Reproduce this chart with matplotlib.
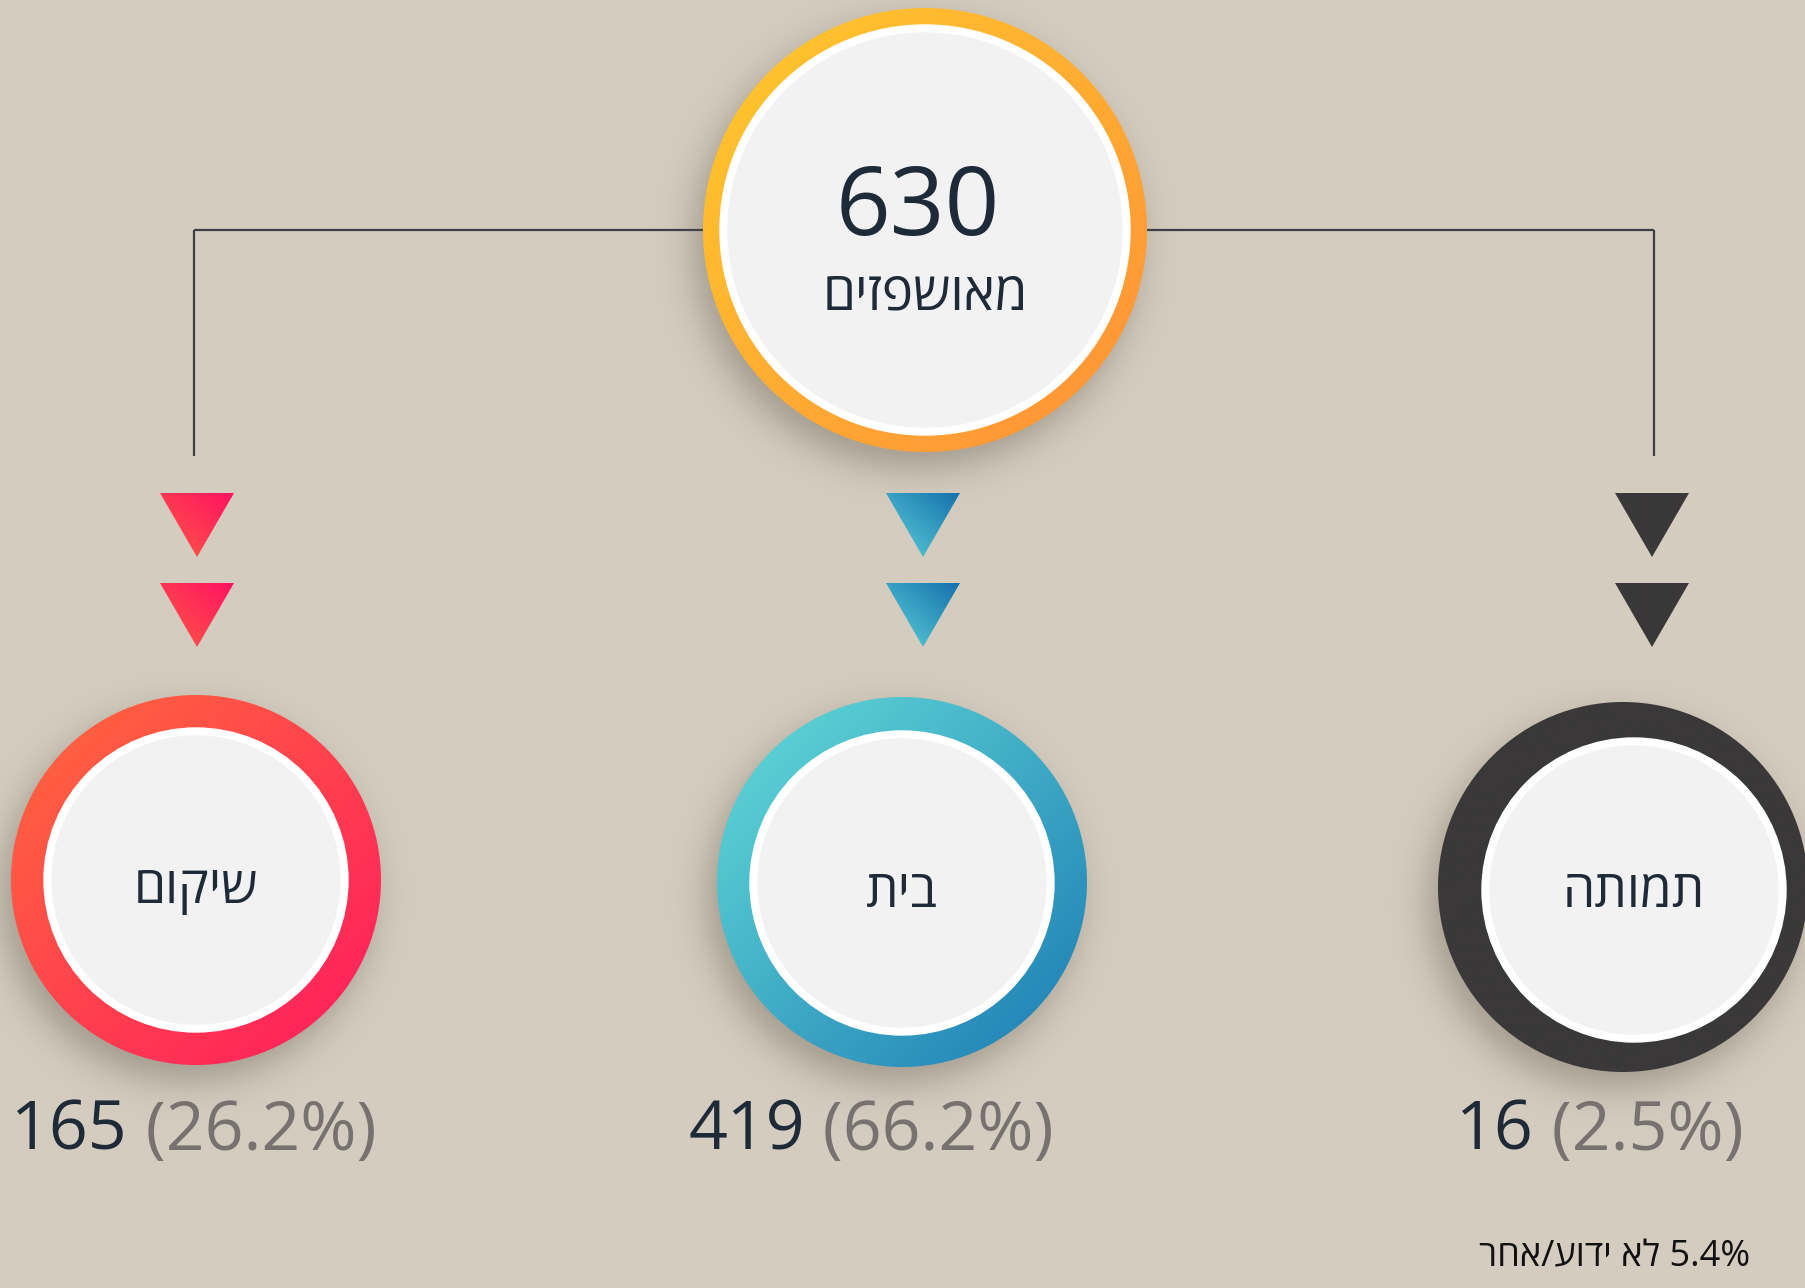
import numpy as np
import matplotlib.pyplot as plt
from matplotlib.patches import Circle, Polygon
from matplotlib.colors import to_rgb

# data
total = 630
total_label = "מאושפזים"
categories = ["שיקום", "בית", "תמותה"]
counts = [165, 419, 16]
shares = [26.2, 66.2, 2.5]
other_share = 5.4
other_label = "לא ידוע/אחר"

W, H = 1805, 1288
BG = '#D4CCBF'
DARK = '#1F2A38'
GREY_TXT = '#777270'
FONT = ['Open Sans', 'DejaVu Sans']

fig = plt.figure(figsize=(W / 100, H / 100), dpi=100)
fig.patch.set_facecolor(BG)
ax = fig.add_axes([0, 0, 1, 1])
ax.set_facecolor(BG)


def heb(s):
    # matplotlib has no bidi, so reverse Hebrew for display
    return s[::-1]


def gradient(c1, c2, d, n=256):
    a, b = np.array(to_rgb(c1)), np.array(to_rgb(c2))
    yy, xx = np.mgrid[0:1:n * 1j, 0:1:n * 1j]
    t = xx * d[0] + yy * d[1]
    t = (t - t.min()) / (t.max() - t.min())
    return a + (b - a) * t[..., None]


def grad_fill(patch, box, c1, c2, d, z):
    patch.set_facecolor('none')
    patch.set_edgecolor('none')
    patch.set_zorder(z)
    ax.add_patch(patch)
    x0, x1, y0, y1 = box
    im = ax.imshow(gradient(c1, c2, d), extent=(x0, x1, y1, y0), origin='upper',
                   zorder=z, interpolation='bilinear')
    im.set_clip_path(patch)


def shadow(cx, cy, r, dx=-9, dy=16, s=11, amax=0.42):
    pad = 5 * s + 20
    x0, x1 = cx + dx - r - pad, cx + dx + r + pad
    y0, y1 = cy + dy - r - pad, cy + dy + r + pad
    n = int(x1 - x0)
    X, Y = np.meshgrid(np.linspace(x0, x1, n), np.linspace(y0, y1, n))
    d = np.hypot(X - (cx + dx), Y - (cy + dy))
    rgba = np.zeros((n, n, 4))
    rgba[..., :3] = to_rgb('#5c5548')
    rgba[..., 3] = amax / (1 + np.exp((d - r) / s))
    ax.imshow(rgba, extent=(x0, x1, y1, y0), origin='upper', zorder=2)


def ring(cx, cy, R, rw, rg, c1, c2, inner=None):
    shadow(cx, cy, R)
    grad_fill(Circle((cx, cy), R), (cx - R, cx + R, cy - R, cy + R), c1, c2, (1, 1), 3)
    ix, iy = inner if inner else (cx, cy)
    ax.add_patch(Circle((ix, iy), rw, color='white', zorder=4))
    ax.add_patch(Circle((ix, iy), rg, color='#F2F2F2', zorder=5))


def triangle(tx, top, c1, c2, w=74, h=64):
    pts = [(tx - w / 2, top), (tx + w / 2, top), (tx, top + h)]
    grad_fill(Polygon(pts, closed=True), (tx - w / 2, tx + w / 2, top, top + h),
              c1, c2, (1, -1), 3)


# connector lines
line_kw = dict(color='#3A3F47', lw=1.6, zorder=1, solid_capstyle='butt')
ax.plot([194, 1654], [230, 230], **line_kw)
ax.plot([194, 194], [230, 456], **line_kw)
ax.plot([1654, 1654], [230, 456], **line_kw)

# top circle
ring(925, 230, 222, 205, 197, '#FFCA2C', '#FF9039')
ax.text(918, 210, str(total), fontsize=69, color=DARK, ha='center', va='center',
        family=FONT, zorder=6)
ax.text(925, 296, heb(total_label), fontsize=38, color=DARK, ha='center',
        va='center', family=FONT, zorder=6)

# branches
circ_x = [196, 902, 1623]
circ_y = [880, 882, 887]
inner_c = [(196, 880), (902, 883), (1634, 890)]
ring_cols = [('#FF6A3D', '#FF1A5E'), ('#63DCD8', '#1C7BB4'), ('#3A3839', '#3A3839')]
tri_x = [197, 923, 1652]
tri_cols = [('#FF5A45', '#FF1262'), ('#5BD2D8', '#1770AE'), ('#3A3839', '#3A3839')]
label_x = [11, 688, 1456]
text_dy = [9, 10, 3]

for i, cat in enumerate(categories):
    ring(circ_x[i], circ_y[i], 185, 152, 144, *ring_cols[i], inner=inner_c[i])
    ax.text(inner_c[i][0], inner_c[i][1] + text_dy[i], heb(cat), fontsize=37,
            color=DARK, ha='center', va='center', family=FONT, zorder=6)
    for top in (493, 583):
        triangle(tri_x[i], top, *tri_cols[i])
    t1 = ax.text(label_x[i], 1150, str(counts[i]), fontsize=49, color=DARK,
                 ha='left', va='baseline', family=FONT, zorder=6)
    ax.annotate(f" ({shares[i]}%)", xy=(1, 0), xycoords=t1, fontsize=49,
                color=GREY_TXT, ha='left', va='bottom', family=FONT, zorder=6)

# footnote
ax.text(1750, 1257, heb(other_label) + " " + f"{other_share}%", fontsize=26,
        color='#111111', ha='right', va='center', family=FONT, zorder=6)

ax.set_xlim(0, W)
ax.set_ylim(H, 0)
ax.set_aspect('auto')
ax.axis('off')
fig.savefig('out.png', dpi=100, facecolor=BG)
